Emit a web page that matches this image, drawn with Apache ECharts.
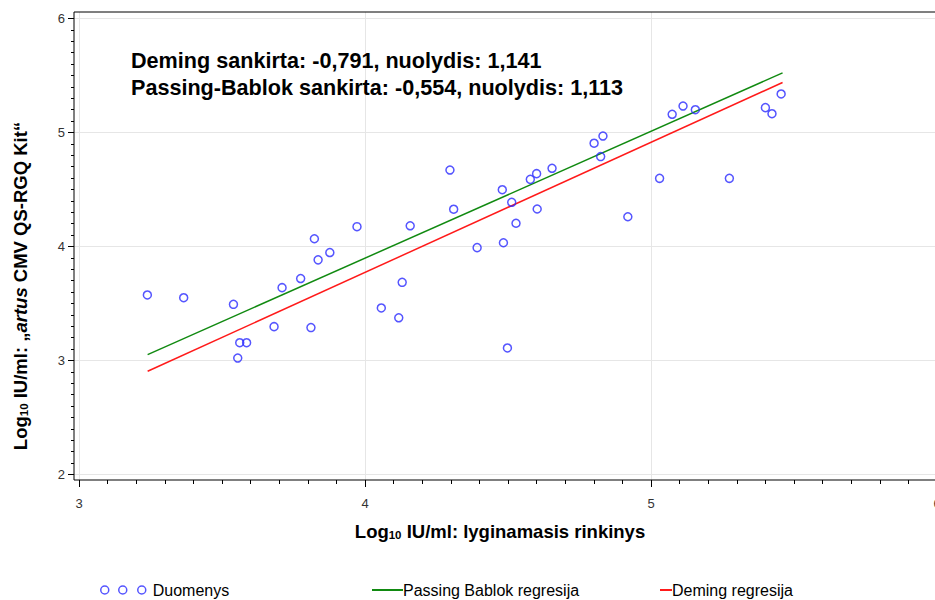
<!DOCTYPE html>
<html><head><meta charset="utf-8">
<script src="https://cdn.jsdelivr.net/npm/echarts@6/dist/echarts.min.js"></script>
<style>html,body{margin:0;padding:0;background:#fff}#c{width:935px;height:600px}</style>
</head><body><div id="c"></div>
<script>
// ---- data ----
const xTickMin = 3, xTickMax = 6, xTickStep = 1;
const yTickMin = 2, yTickMax = 6, yTickStep = 1;
const pointsX = [3.239,3.366,3.540,3.562,3.586,3.555,3.682,3.710,3.775,3.811,3.823,3.836,3.877,3.972,4.057,4.118,4.130,4.158,4.297,4.310,4.392,4.480,4.484,4.498,4.513,4.528,4.578,4.600,4.602,4.654,4.801,4.832,4.824,4.919,5.030,5.074,5.112,5.155,5.274,5.400,5.423,5.455];
const pointsY = [3.575,3.551,3.493,3.156,3.156,3.022,3.297,3.639,3.719,3.289,4.068,3.883,3.947,4.174,3.461,3.375,3.686,4.182,4.671,4.327,3.990,4.498,4.033,3.110,4.388,4.204,4.589,4.639,4.329,4.686,4.906,4.969,4.789,4.261,4.598,5.160,5.232,5.200,4.598,5.218,5.165,5.338];
const passingLineX = [3.24, 5.46];
const passingLineY = [3.052, 5.523];
const demingLineX = [3.24, 5.46];
const demingLineY = [2.906, 5.439];
const annotLine1 = 'Deming sankirta: -0,791, nuolydis: 1,141';
const annotLine2 = 'Passing-Bablok sankirta: -0,554, nuolydis: 1,113';

// ---- build ----
const scatterData = pointsX.map((x, i) => [x, pointsY[i]]);
const passingData = passingLineX.map((x, i) => [x, passingLineY[i]]);
const demingData = demingLineX.map((x, i) => [x, demingLineY[i]]);

const FONT = '"Liberation Sans", Arial, sans-serif';
const BLUE = '#2b2bff';
const GREEN = '#118a11';
const RED = '#ff1a1a';
const XMIN = 2.9825, XMAX = 6.0105, YMIN = 1.952, YMAX = 6.057;

const titleRich = {
  b: {fontFamily: FONT, fontWeight: 'bold', fontSize: 18.5, color: '#000'},
  s: {fontFamily: FONT, fontWeight: 'bold', fontSize: 11.5, color: '#000', verticalAlign: 'bottom'},
  i: {fontFamily: FONT, fontWeight: 'bold', fontStyle: 'italic', fontSize: 18.5, color: '#000'}
};
const hidden = (gi, min, max) => ({type: 'value', gridIndex: gi, min: min, max: max, show: false,
  axisLine: {show: false}, axisTick: {show: false}, axisLabel: {show: false}, splitLine: {show: false}});

const chart = echarts.init(document.getElementById('c'), null, {renderer: 'svg'});
chart.setOption({
  animation: false,
  backgroundColor: '#fff',
  grid: [
    // data grid (frame)
    {left: 74, top: 12, width: 866, height: 468, containLabel: false, outerBoundsMode: 'none',
      show: true, borderColor: '#000', borderWidth: 1, z: 1},
    // x-scale grid (3..6)
    {left: 79, top: 12, width: 858, height: 468, containLabel: false, outerBoundsMode: 'none', z: 0},
    // y-scale grid (2..6)
    {left: 74, top: 18.5, width: 866, height: 456, containLabel: false, outerBoundsMode: 'none', z: 0}
  ],
  xAxis: [
    hidden(0, XMIN, XMAX),
    {type: 'value', gridIndex: 1, position: 'bottom', min: xTickMin, max: xTickMax, interval: xTickStep,
      axisLine: {show: false, onZero: false},
      axisTick: {show: true, length: 7, lineStyle: {color: '#000', width: 1}},
      minorTick: {show: true, splitNumber: 10, length: 4, lineStyle: {color: '#000', width: 1}},
      axisLabel: {show: true, margin: 17, color: '#333', fontSize: 13, fontFamily: FONT, showMaxLabel: true, showMinLabel: true},
      splitLine: {show: true, lineStyle: {color: '#e6e6e6', width: 1}},
      minorSplitLine: {show: false}},
    hidden(2, 0, 1)
  ],
  yAxis: [
    hidden(0, YMIN, YMAX),
    hidden(1, 0, 1),
    {type: 'value', gridIndex: 2, position: 'left', min: yTickMin, max: yTickMax, interval: yTickStep,
      axisLine: {show: false, onZero: false},
      axisTick: {show: true, length: 6, lineStyle: {color: '#000', width: 1}},
      minorTick: {show: true, splitNumber: 10, length: 3, lineStyle: {color: '#000', width: 1}},
      axisLabel: {show: true, margin: 9, color: '#333', fontSize: 13, fontFamily: FONT, showMaxLabel: true, showMinLabel: true},
      splitLine: {show: true, lineStyle: {color: '#e6e6e6', width: 1}},
      minorSplitLine: {show: false}}
  ],
  legend: [
    {
      data: [{name: 'Duomenys',
        icon: 'path://M0,4A4,4 0 1,0 8,4A4,4 0 1,0 0,4Z M18,4A4,4 0 1,0 26,4A4,4 0 1,0 18,4Z M37,4A4,4 0 1,0 45,4A4,4 0 1,0 37,4Z',
        itemStyle: {color: 'rgba(0,0,0,0)', borderColor: BLUE, borderWidth: 1.5}}],
      left: 100, top: 582, padding: 0, itemWidth: 45, itemHeight: 8, selectedMode: false,
      textStyle: {fontFamily: FONT, fontSize: 16, color: '#000', padding: [0, 0, 0, 2]}
    },
    {
      data: [{name: 'Passing Bablok regresija', icon: 'rect', itemStyle: {color: GREEN}}],
      left: 372, top: 582, padding: 0, itemWidth: 31, itemHeight: 2, selectedMode: false,
      textStyle: {fontFamily: FONT, fontSize: 16, color: '#000', padding: [0, 0, 0, -5]}
    },
    {
      data: [{name: 'Deming regresija', icon: 'rect', itemStyle: {color: RED}}],
      left: 660, top: 582, padding: 0, itemWidth: 12, itemHeight: 2, selectedMode: false,
      textStyle: {fontFamily: FONT, fontSize: 16, color: '#000', padding: [0, 0, 0, -5]}
    }
  ],
  series: [
    {
      name: 'Duomenys', type: 'scatter', xAxisIndex: 0, yAxisIndex: 0,
      data: scatterData, symbol: 'circle', symbolSize: 8,
      itemStyle: {color: 'rgba(0,0,0,0)', borderColor: BLUE, borderWidth: 1.5},
      z: 5
    },
    {
      name: 'Passing Bablok regresija', type: 'line', xAxisIndex: 0, yAxisIndex: 0,
      data: passingData, symbol: 'none', showSymbol: false,
      itemStyle: {color: GREEN}, lineStyle: {color: GREEN, width: 1.5}, z: 4
    },
    {
      name: 'Deming regresija', type: 'line', xAxisIndex: 0, yAxisIndex: 0,
      data: demingData, symbol: 'none', showSymbol: false,
      itemStyle: {color: RED}, lineStyle: {color: RED, width: 1.5}, z: 4
    }
  ],
  graphic: [
    {type: 'text', x: 131, y: 60, z: 10,
      style: {text: annotLine1, fontFamily: FONT, fontWeight: 'bold', fontSize: 21.6, fill: '#000', align: 'left', verticalAlign: 'middle'}},
    {type: 'text', x: 131, y: 87, z: 10,
      style: {text: annotLine2, fontFamily: FONT, fontWeight: 'bold', fontSize: 21.6, fill: '#000', align: 'left', verticalAlign: 'middle'}},
    {type: 'text', x: 500, y: 531, z: 10,
      style: {text: '{b|Log}{s|10}{b| IU/ml: lyginamasis rinkinys}', rich: titleRich, align: 'center', verticalAlign: 'middle'}},
    {type: 'text', x: 20, y: 286, rotation: Math.PI / 2, z: 10,
      style: {text: '{b|Log}{s|10}{b| IU/ml: „}{i|artus}{b| CMV QS-RGQ Kit“}', rich: titleRich, align: 'center', verticalAlign: 'middle'}}
  ]
});
</script>
</body></html>
